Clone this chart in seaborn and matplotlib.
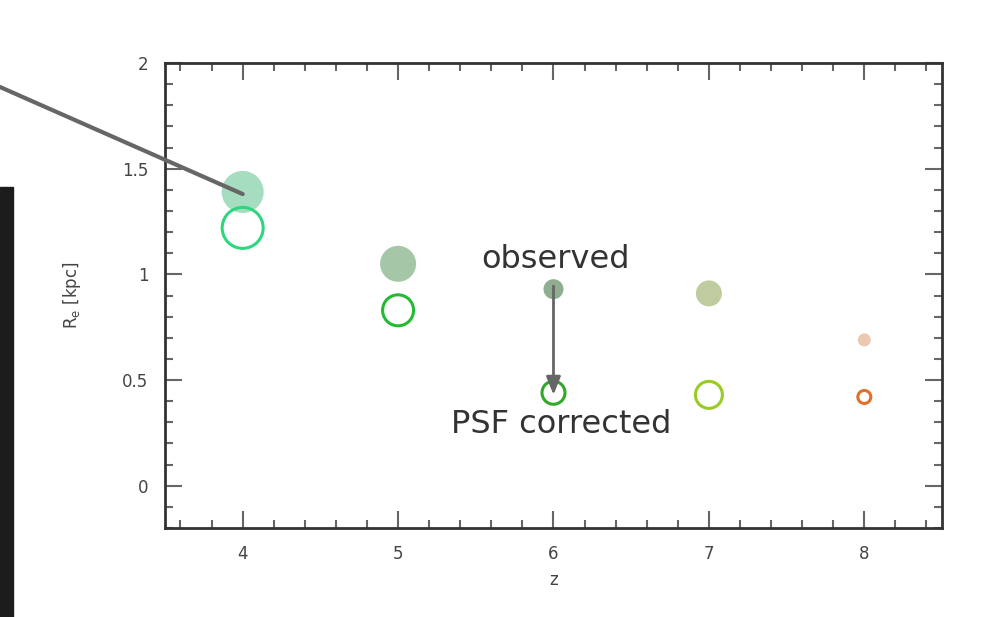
import numpy as np
import pandas as pd
import matplotlib
matplotlib.use("Agg")
import matplotlib.pyplot as plt
from matplotlib.patches import Rectangle
from matplotlib.ticker import MultipleLocator
import seaborn as sns

# Redshift bins and effective radii (kpc)
redshift = [4, 5, 6, 7, 8]
re_observed = [1.39, 1.05, 0.93, 0.91, 0.69]
re_psf_corrected = [1.22, 0.83, 0.44, 0.43, 0.42]

# Per-bin colours
observed_colors = ["#a6dcc0", "#a6c6a8", "#8fae90", "#bfcca0", "#ebc8b0"]
corrected_colors = ["#2ed67f", "#22bb33", "#33a828", "#99cc22", "#e0702e"]

# Marker diameters in pixels
observed_diam = [42, 36, 20, 26, 13]
corrected_diam = [44, 34, 26, 30, 16]

sns.set_theme(style="white")
plt.rcParams["font.family"] = ["DejaVu Sans"]

DPI = 100
fig = plt.figure(figsize=(9.86, 6.17), dpi=DPI)
ax = fig.add_axes([0.1673, 0.1442, 0.7881, 0.7537])

px2pt = 72 / DPI

df_obs = pd.DataFrame({"z": redshift, "re": re_observed,
                       "size": [(d * px2pt) ** 2 for d in observed_diam]})
df_cor = pd.DataFrame({"z": redshift, "re": re_psf_corrected,
                       "size": [((d - 3) * px2pt) ** 2 for d in corrected_diam]})

sns.scatterplot(data=df_obs, x="z", y="re", hue="z",
                palette=dict(zip(redshift, observed_colors)),
                size="size", sizes=(df_obs["size"].min(), df_obs["size"].max()),
                linewidth=0, legend=False, ax=ax, zorder=3)
obs_coll = ax.collections[-1]
obs_coll.set_sizes(df_obs["size"].values)

sns.scatterplot(data=df_cor, x="z", y="re", hue="z",
                palette=dict(zip(redshift, corrected_colors)),
                size="size", sizes=(df_cor["size"].min(), df_cor["size"].max()),
                legend=False, ax=ax, zorder=4)
cor_coll = ax.collections[-1]
cor_coll.set_sizes(df_cor["size"].values)
fc = cor_coll.get_facecolors()
cor_coll.set_edgecolors(fc)
cor_coll.set_facecolors("none")
cor_coll.set_linewidths(2.2)

ax.set_xlim(3.5, 8.5)
ax.set_ylim(-0.2, 2.0)
ax.set_xticks(redshift)
ax.set_yticks([0, 0.5, 1, 1.5, 2])
ax.set_yticklabels(["0", "0.5", "1", "1.5", "2"])
ax.xaxis.set_minor_locator(MultipleLocator(0.2))
ax.yaxis.set_minor_locator(MultipleLocator(0.1))

ax.tick_params(which="both", direction="in", top=True, right=True,
               bottom=True, left=True, color="#666666")
ax.tick_params(which="major", length=12, width=1.5, labelsize=12,
               labelcolor="#444444", pad=12)
ax.tick_params(which="minor", length=6, width=1.5)
for sp in ax.spines.values():
    sp.set_color("#333333")
    sp.set_linewidth(2)

ax.set_xlabel("z", fontsize=12, color="#444444", labelpad=6)
ax.set_ylabel(r"R$_{\rm e}$ [kpc]", fontsize=12, color="#444444", labelpad=28)

# Annotations
ax.text(6.01, 1.07, "observed", fontsize=23, color="#333333",
        ha="center", va="center", zorder=5)
ax.text(6.05, 0.29, "PSF corrected", fontsize=23, color="#333333",
        ha="center", va="center", zorder=5)
ax.annotate("", xy=(6.0, 0.43), xytext=(6.0, 0.945),
            arrowprops=dict(arrowstyle="-|>,head_width=0.24,head_length=0.6",
                            color="#666666", lw=2,
                            mutation_scale=18, shrinkA=0, shrinkB=0),
            zorder=6)

# Pointer line reaching in from the left edge
ax.annotate("", xy=(4.0, 1.38), xycoords="data",
            xytext=(0, 617 - 87), textcoords="figure pixels",
            arrowprops=dict(arrowstyle="-", color="#666666", lw=3,
                            shrinkA=0, shrinkB=0),
            annotation_clip=False, zorder=6)

# Dark panel edge on the left
fig.patches.append(Rectangle((0, 0), 13 / 986, (617 - 187) / 617,
                             transform=fig.transFigure, color="#1c1c1c",
                             zorder=0))

fig.savefig("out.png", dpi=DPI)
